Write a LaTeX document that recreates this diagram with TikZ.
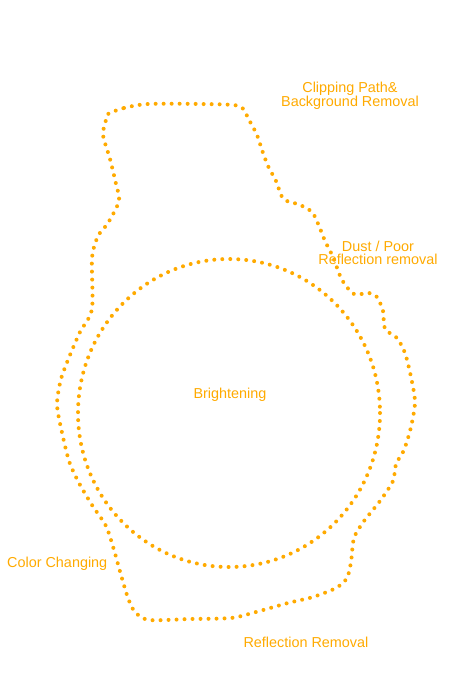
\documentclass[tikz,border=0pt]{standalone}
\usepackage{fontspec}
\setmainfont{Liberation Sans}
\usetikzlibrary{positioning}
\definecolor{amber}{RGB}{255,170,0}

\begin{document}
\begin{tikzpicture}[
    x=1pt, y=-1pt,
    every node/.style={font=\fontsize{14.4}{13}\selectfont, text=amber, inner sep=0pt},
    label/.style={align=center},
    dots/.style={draw=amber, line width=4pt, line cap=round, dash pattern=on 0pt off 8pt}
]
\useasboundingbox (0,0) rectangle (460,690);
% outer outline
\draw[dots] plot[smooth cycle, tension=0.45] coordinates {
    (108,114) (124,108) (148,104) (200,104) (239,106) (249,120) (257,135)
    (262,150) (268,166) (276,181) (282,197) (289,202) (298,204) (312,212)
    (319,226) (325,241) (333,257) (342,280) (354,294) (369,293) (377,297)
    (383,311) (385,329) (397,338) (405,353) (411,377) (415,402) (411,427)
    (404,450) (396,464) (393,481) (380,501) (364,521) (354,538) (351,562)
    (347,578) (336,588) (313,597) (288,603) (256,612) (231,618) (190,619)
    (149,620) (135,612) (128,598) (121,575) (114,550) (106,526) (92,505)
    (79,483) (69,461) (61,428) (57,404) (61,379) (70,355) (80,332) (92,309)
    (92,258) (98,236) (108,223) (119,201) (116,184) (110,159) (103,135) (106,120)};
% inner circle
\draw[dots] (229,413) ellipse [x radius=151, y radius=154];
\node[label] (clip) at (350,95.5) {Clipping Path\&\\Background Removal};
\node[label] (dust) at (378,252.5) {Dust / Poor\\Reflection removal};
\node[label] (bright) at (230,395) {Brightening};
\node[label, anchor=west] (color) at (7,564) {Color Changing};
\node[label] (refl) at (306,642.5) {Reflection Removal};
\end{tikzpicture}
\end{document}
